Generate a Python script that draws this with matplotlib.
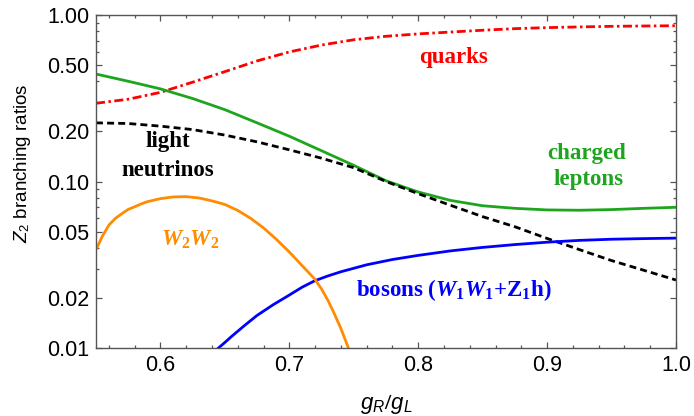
import matplotlib
matplotlib.use("Agg")
import matplotlib.pyplot as plt
from matplotlib.ticker import FixedLocator, FixedFormatter, NullFormatter

# ---------------- data ----------------
x_main = [0.55, 0.575, 0.60, 0.625, 0.65, 0.675, 0.70, 0.725, 0.75, 0.775,
          0.80, 0.825, 0.85, 0.875, 0.90, 0.925, 0.95, 0.975, 1.0]
quarks = [0.295, 0.312, 0.343, 0.395, 0.457, 0.53, 0.60, 0.66, 0.71, 0.745,
          0.77, 0.79, 0.81, 0.828, 0.84, 0.848, 0.855, 0.859, 0.862]
charged_leptons = [0.442, 0.40, 0.36, 0.315, 0.27, 0.225, 0.187, 0.153, 0.125, 0.101,
                   0.0865, 0.077, 0.0715, 0.069, 0.0675, 0.0672, 0.0678, 0.069, 0.070]
light_neutrinos = [0.225, 0.223, 0.215, 0.205, 0.19, 0.173, 0.155, 0.138, 0.121, 0.100,
                   0.0845, 0.072, 0.0615, 0.0535, 0.0455, 0.039, 0.0335, 0.0293, 0.0256]

x_bosons = [0.645, 0.65, 0.655, 0.665, 0.675, 0.6875, 0.70, 0.71, 0.72, 0.73, 0.74, 0.76, 0.78,
            0.80, 0.825, 0.85, 0.875, 0.90, 0.925, 0.95, 0.975, 1.0]
bosons = [0.0100, 0.0108, 0.0117, 0.0136, 0.0157, 0.0182, 0.0208, 0.0232, 0.0254, 0.0271, 0.0287,
          0.0316, 0.0340, 0.0360, 0.0383, 0.0402, 0.0418, 0.0432, 0.0443, 0.0450, 0.0454, 0.0457]

x_w2w2 = [0.55, 0.555, 0.56, 0.565, 0.57, 0.575, 0.58, 0.585, 0.59, 0.60, 0.61, 0.62, 0.63,
          0.64, 0.65, 0.66, 0.67, 0.68, 0.69, 0.70, 0.71, 0.72, 0.725, 0.73, 0.735, 0.74,
          0.745, 0.75]
w2w2 = [0.039, 0.047, 0.0547, 0.0600, 0.064, 0.068, 0.0705, 0.0733, 0.0757, 0.0789, 0.0808,
        0.0811, 0.0796, 0.0765, 0.0728, 0.0670, 0.0601, 0.0526, 0.0449, 0.0377, 0.0312,
        0.0258, 0.0226, 0.0193, 0.0160, 0.0131, 0.0104, 0.0082]

y_ticks = [0.01, 0.02, 0.05, 0.10, 0.20, 0.50, 1.00]
y_ticklabels = ["0.01", "0.02", "0.05", "0.10", "0.20", "0.50", "1.00"]
x_ticks = [0.6, 0.7, 0.8, 0.9, 1.0]
x_ticklabels = ["0.6", "0.7", "0.8", "0.9", "1.0"]

# ---------------- style ----------------
plt.rcParams['font.family'] = ['Liberation Sans', 'DejaVu Sans']
plt.rcParams['mathtext.fontset'] = 'custom'
plt.rcParams['mathtext.rm'] = 'Liberation Serif:bold'
plt.rcParams['mathtext.bf'] = 'Liberation Serif:bold'
plt.rcParams['mathtext.it'] = 'Liberation Serif:italic:bold'
plt.rcParams['mathtext.sf'] = 'Liberation Sans:italic'
plt.rcParams['mathtext.tt'] = 'Liberation Sans'
plt.rcParams['lines.scale_dashes'] = False

W, H = 694, 416
fig = plt.figure(figsize=(W / 100, H / 100), dpi=100)
ax = fig.add_axes([96 / W, 1 - 348 / H, 580 / W, 333 / H])

def fpos(px, py):
    return px / W, 1 - py / H

lw = 2.0
ax.plot(x_main, quarks, color='#ff0000', lw=lw, dashes=[6.5, 2.5, 1.8, 2.5],
        solid_joinstyle='round')
ax.plot(x_main, charged_leptons, color='#1ea51e', lw=lw, solid_joinstyle='round')
ax.plot(x_main, light_neutrinos, color='black', lw=lw, dashes=[5, 3])
ax.plot(x_bosons, bosons, color='#0000ff', lw=lw, solid_joinstyle='round')
ax.plot(x_w2w2, w2w2, color='#ff8c00', lw=lw, solid_joinstyle='round')

ax.set_yscale('log')
ax.set_xlim(0.55, 1.0)
ax.set_ylim(0.01, 1.0)

ax.yaxis.set_major_locator(FixedLocator(y_ticks))
ax.yaxis.set_major_formatter(FixedFormatter(y_ticklabels))
minors = [m * 10.0 ** e for e in (-2, -1) for m in range(1, 10)]
minors = [v for v in minors if v not in (0.01, 0.02, 0.05, 0.1, 0.2, 0.5)] + [0.03, 0.04]
ax.yaxis.set_minor_locator(FixedLocator(sorted(set(minors))))
ax.yaxis.set_minor_formatter(NullFormatter())
ax.xaxis.set_major_locator(FixedLocator(x_ticks))
ax.xaxis.set_major_formatter(FixedFormatter(x_ticklabels))
ax.xaxis.set_minor_locator(FixedLocator([0.56 + 0.02 * i for i in range(23)]))

frame_col = '#555555'
for s in ax.spines.values():
    s.set_color(frame_col)
    s.set_linewidth(1.0)
ax.tick_params(which='both', direction='in', top=True, right=True, color=frame_col, width=0.9)
ax.tick_params(which='major', length=4.0, labelsize=15.5, pad=5)
ax.tick_params(which='minor', length=2.2)

# axis labels
fig.text(*fpos(23, 163), r'$\mathsf{Z}_{\mathtt{2}}$ branching ratios', rotation=90,
         ha='center', va='center', fontsize=13.5)
fig.text(*fpos(386, 404), r'$\mathsf{g}_{\mathsf{R}}/\mathsf{g}_{\mathsf{L}}$',
         ha='center', va='center', fontsize=16)

# annotations
serif = dict(family=['Liberation Serif', 'DejaVu Serif'], weight='bold', fontsize=16.5,
             ha='center', va='center')
fig.text(*fpos(453, 58), 'quarks', color='#ff0000', **serif)
fig.text(*fpos(168, 142), 'light', color='black', **serif)
fig.text(*fpos(168, 171), 'neutrinos', color='black', **serif)
fig.text(*fpos(587, 153), 'charged', color='#1ea51e', **serif)
fig.text(*fpos(589, 180), 'leptons', color='#1ea51e', **serif)
fig.text(*fpos(190, 240), r'$W_2W_2$', color='#ff8c00', **serif)
fig.text(*fpos(454, 290), r'bosons ($W_1W_1$+Z$_1$h)', color='#0000ff', **serif)

fig.savefig('out.png', dpi=100)
